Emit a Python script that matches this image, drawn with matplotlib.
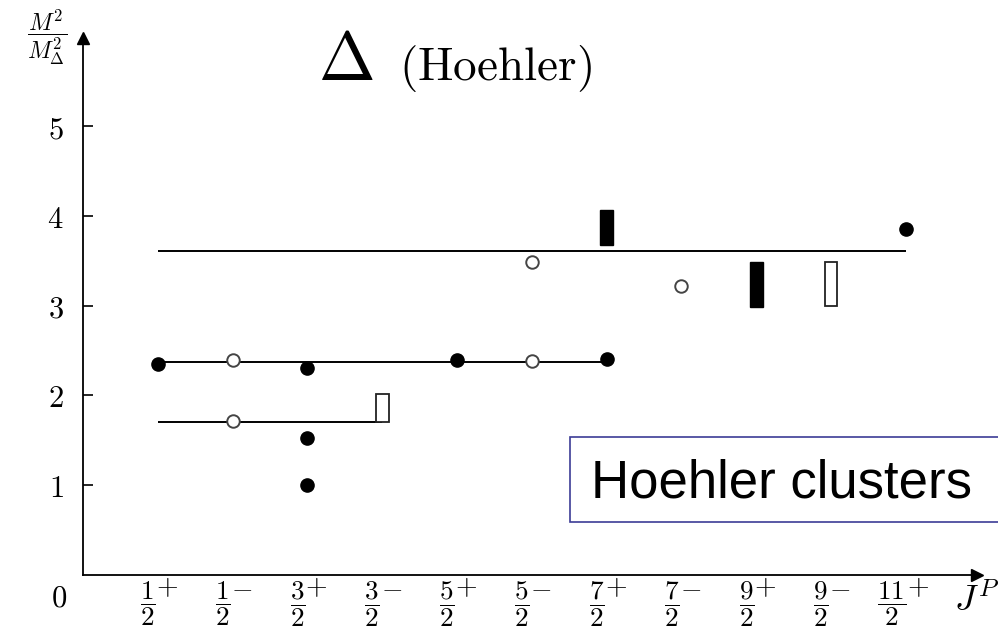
import matplotlib
matplotlib.use("Agg")
import matplotlib.pyplot as plt
from matplotlib.patches import Rectangle
from matplotlib.transforms import ScaledTranslation, blended_transform_factory

plt.rcParams['mathtext.fontset'] = 'cm'
plt.rcParams['font.family'] = ['DejaVu Serif']

# categories (J^P): numerator of J (J = num/2) and parity
j_num = [1, 1, 3, 3, 5, 5, 7, 7, 9, 9, 11]
parity = ['+', '-', '+', '-', '+', '-', '+', '-', '+', '-', '+']
cat_idx = list(range(len(j_num)))

# filled circles
filled_x = [0, 2, 2, 2, 4, 6, 10]
filled_y = [2.35, 2.30, 1.53, 1.00, 2.39, 2.41, 3.85]
# open circles
open_x = [1, 1, 5, 5, 7]
open_y = [2.39, 1.71, 2.38, 3.49, 3.22]
# filled rectangles (mass ranges)
frect_x = [6, 8]
frect_lo = [3.68, 2.99]
frect_hi = [4.06, 3.48]
# open rectangles
orect_x = [3, 9]
orect_lo = [1.70, 3.00]
orect_hi = [2.02, 3.48]
# cluster lines
line_level = [1.70, 2.37, 3.61]
line_start = [0, 0, 0]
line_end = [3, 6, 10]

W, H = 998, 629
fig = plt.figure(figsize=(W / 100, H / 100), dpi=100)
ax = fig.add_axes([83 / W, (H - 575) / H, (977 - 83) / W, (575 - 38) / H])
ax.set_xlim(-1.0, 10.95)
ax.set_ylim(0, 5.98)

for s in ['top', 'right']:
    ax.spines[s].set_visible(False)
for s in ['left', 'bottom']:
    ax.spines[s].set_linewidth(1.3)
ax.plot(1, 0, '>k', ms=9, transform=ax.transAxes, clip_on=False)
ax.plot(0, 1, '^k', ms=9, transform=ax.transAxes, clip_on=False)

# lines
for lv, s, e in zip(line_level, line_start, line_end):
    ax.hlines(lv, s, e, color='black', lw=1.4, zorder=2)

# rectangles
ax.bar(frect_x, [h - l for h, l in zip(frect_hi, frect_lo)], bottom=frect_lo, width=0.17,
       color='black', edgecolor='black', lw=1.0, zorder=3)
ax.bar(orect_x, [h - l for h, l in zip(orect_hi, orect_lo)], bottom=orect_lo, width=0.17,
       color='white', edgecolor='#222222', lw=1.3, zorder=3)

# circles
ax.plot(filled_x, filled_y, 'o', color='black', ms=9.5, zorder=4, ls='none')
ax.plot(open_x, open_y, 'o', mfc='white', mec='#444444', mew=1.4, ms=9, zorder=4, ls='none')

# y ticks
ax.set_yticks([1, 2, 3, 4, 5])
ax.set_yticklabels([r'$%d$' % v for v in [1, 2, 3, 4, 5]], fontsize=22)
ax.tick_params(axis='y', direction='in', length=7, width=1.2, pad=14)

# x ticks: fraction as tick label, parity sign as raised text
ax.set_xticks(cat_idx)
ax.set_xticklabels([r'$\dfrac{%d}{2}$' % n for n in j_num], fontsize=19.5)
ax.tick_params(axis='x', which='major', length=0, pad=3)
for lab, n in zip(ax.get_xticklabels(), j_num):
    dx = -14 if n >= 10 else -10
    lab.set_transform(lab.get_transform() + ScaledTranslation(dx / 100, 0, fig.dpi_scale_trans))
ax.set_xticks([1, 3, 5, 7, 9], minor=True)
ax.tick_params(axis='x', which='minor', direction='in', length=6, width=1.2)

trans = blended_transform_factory(ax.transData, fig.transFigure)
for i, n, p in zip(cat_idx, j_num, parity):
    dx = 12 if n >= 10 else 9
    sign = '+' if p == '+' else '-'
    ax.text(i, 1 - 588 / H, r'$%s$' % sign, fontsize=20, ha='center', va='center',
            transform=trans + ScaledTranslation(dx / 100, 0, fig.dpi_scale_trans))

fig.text(59 / W, 1 - 598 / H, r'$0$', fontsize=22, ha='center', va='center')
fig.text(977 / W, 1 - 600 / H, r'$J^P$', fontsize=26, ha='center', va='center')
fig.text(47 / W, 1 - 37 / H, r'$\dfrac{M^2}{M^2_\Delta}$', fontsize=17, ha='center', va='center')

# title
fig.text(346 / W, 1 - 61 / H, r'$\Delta$', fontsize=49, ha='center', va='center')
fig.text(495 / W, 1 - 69 / H, r'$\mathrm{(Hoehler)}$', fontsize=34, ha='center', va='center')

# annotation box
fig.patches.append(Rectangle((570 / W, 1 - 522 / H), 440 / W, 85 / H, transform=fig.transFigure,
                             facecolor='white', edgecolor='#3c3c96', lw=1.2, zorder=5))
fig.text(591 / W, 1 - 483 / H, 'Hoehler clusters', fontsize=38, family='Liberation Sans',
         ha='left', va='center', zorder=6)

fig.savefig('out.png', dpi=100)
